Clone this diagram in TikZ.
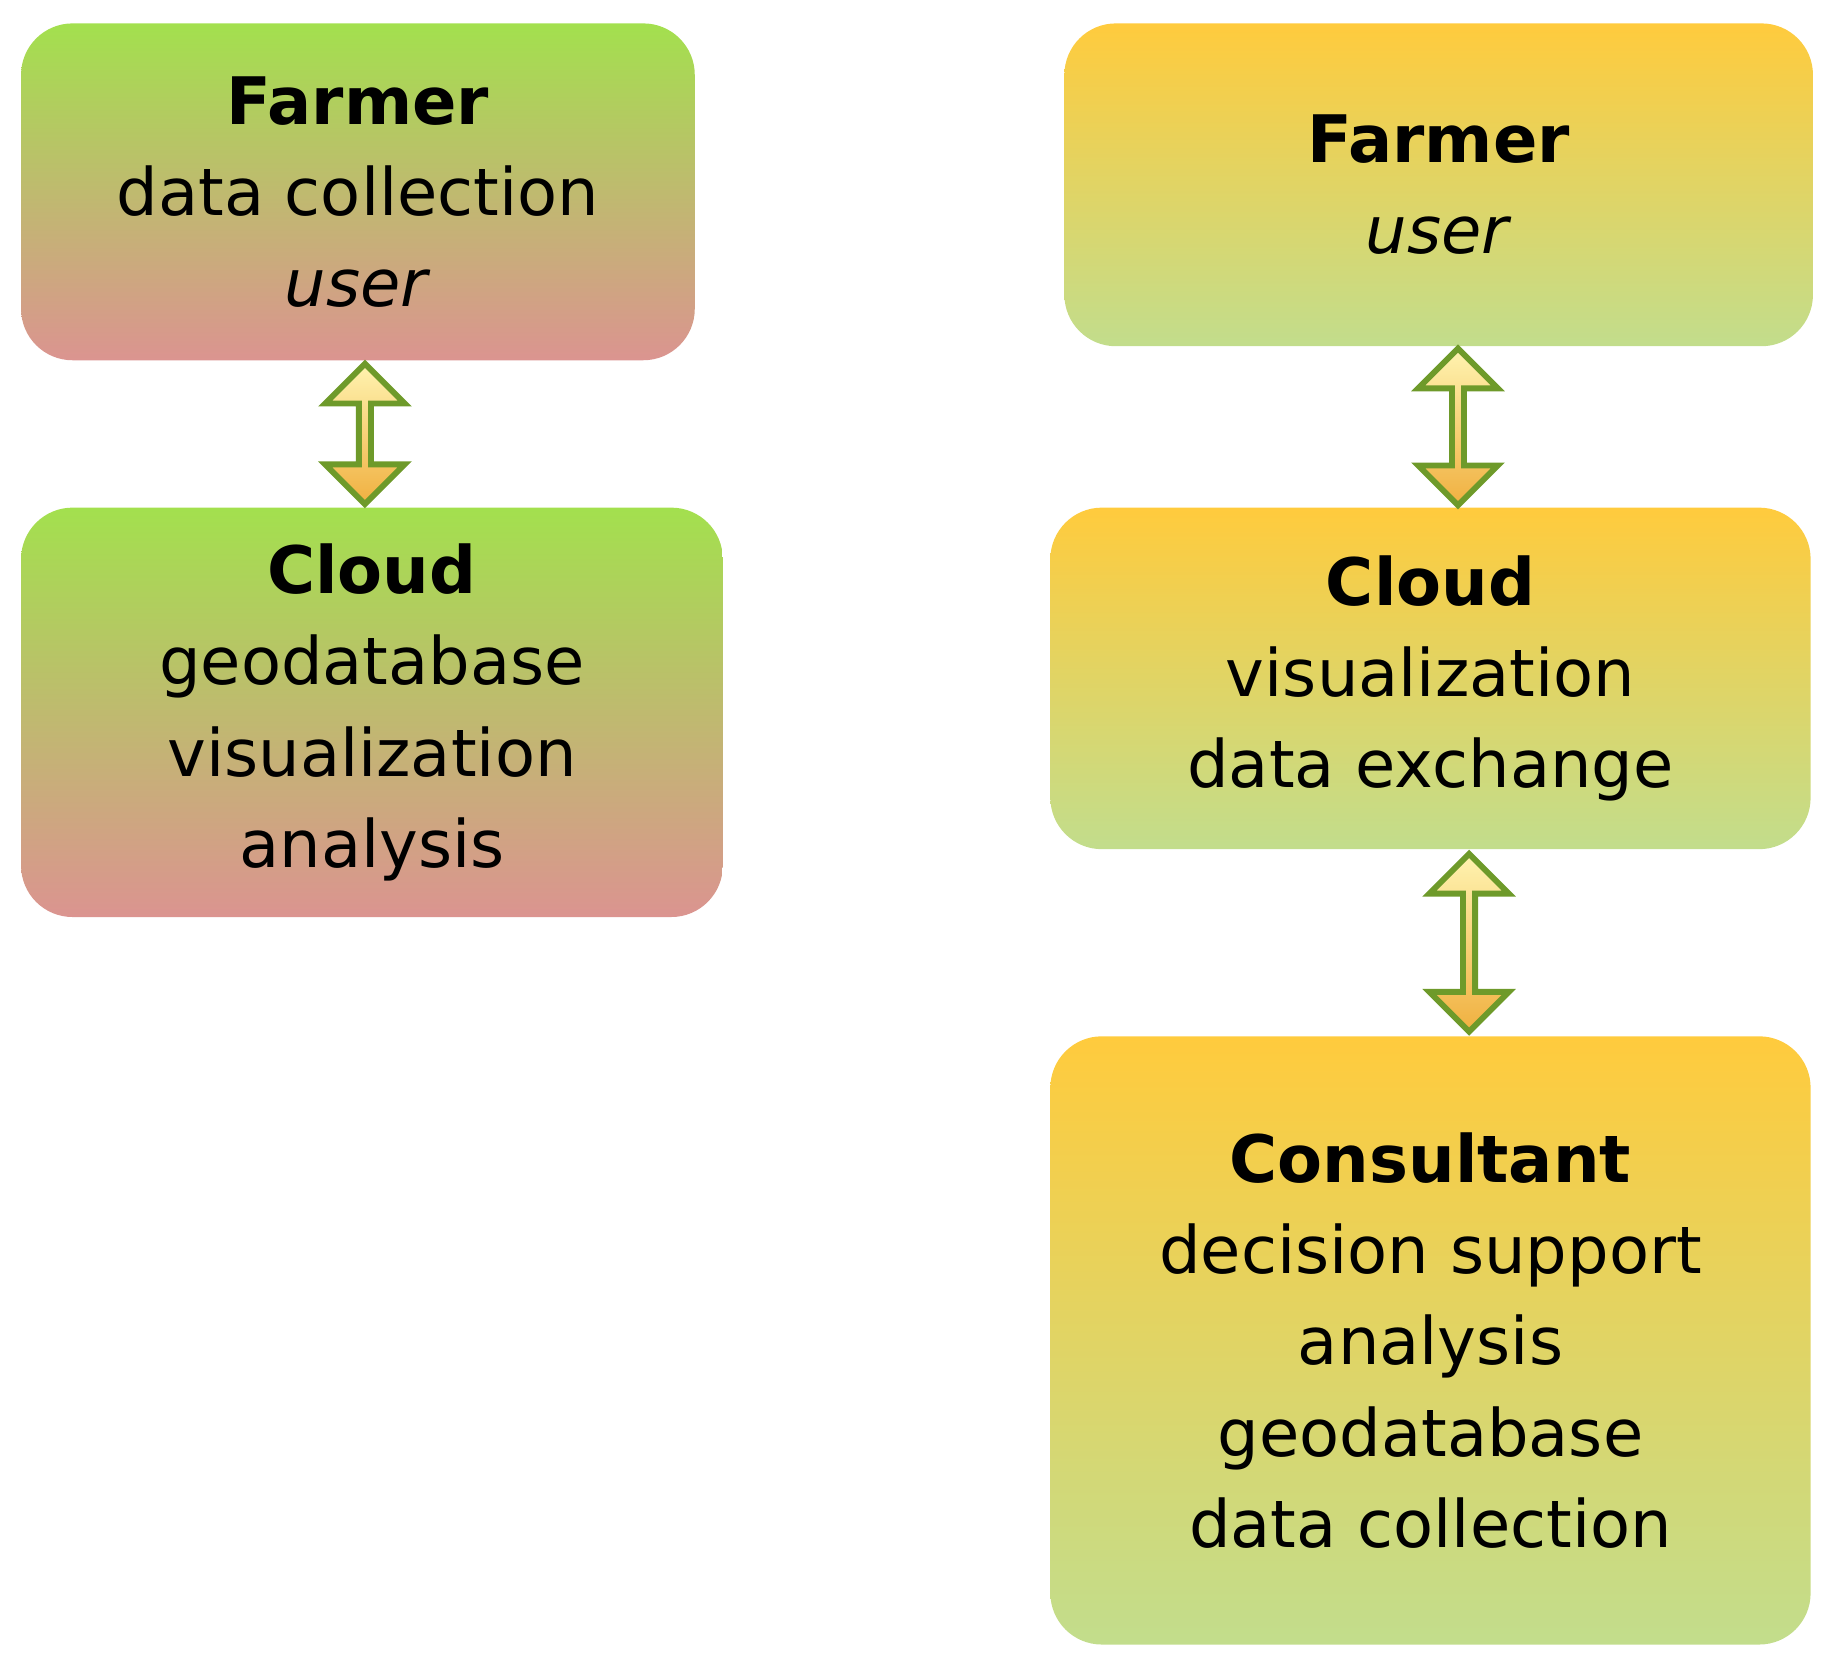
\documentclass[tikz,border=0pt]{standalone}
\usepackage{fontspec}
\setmainfont{DejaVu Sans}
\usetikzlibrary{shapes.arrows,calc}
\definecolor{gtop}{HTML}{A3E04E}
\definecolor{gbot}{HTML}{DB9490}
\definecolor{otop}{HTML}{FFCB3D}
\definecolor{obot}{HTML}{C2DD8C}
\definecolor{aline}{HTML}{6E9A2A}
\definecolor{atop}{HTML}{FFF3B0}
\definecolor{abot}{HTML}{F0B040}
\begin{document}
\begin{tikzpicture}[x=0.5pt,y=0.5pt,
  box/.style={rounded corners=22pt,align=center,inner sep=0pt,
    font=\fontsize{28}{39}\selectfont},
  gbox/.style={box,top color=gtop,bottom color=gbot},
  obox/.style={box,top color=otop,bottom color=obot},
  darr/.style={double arrow,shape border rotate=90,draw=aline,line width=2.5pt,
    top color=atop,bottom color=abot,minimum width=34pt,
    double arrow head extend=7pt,inner sep=0pt,double arrow tip angle=90}]
\useasboundingbox (0,0) rectangle (1568,-1430);
\node[gbox,minimum width=288pt,minimum height=144pt] (f1) at (306,-164)
  {\textbf{Farmer}\\data collection\\\textit{user}};
\node[gbox,minimum width=300pt,minimum height=175pt] (c1) at (318,-609)
  {\textbf{Cloud}\\geodatabase\\visualization\\analysis};
\node[obox,minimum width=320pt,minimum height=138pt] (f2) at (1230,-158)
  {\textbf{Farmer}\\\textit{user}};
\node[obox,minimum width=325pt,minimum height=146pt] (c2) at (1223,-580)
  {\textbf{Cloud}\\visualization\\data exchange};
\node[obox,minimum width=325pt,minimum height=260pt] (k2) at (1223,-1146)
  {\textbf{Consultant}\\decision support\\analysis\\geodatabase\\data collection};
\node[darr,minimum height=60pt] (a1) at ($(f1.south)!0.5!(c1.north)$) {};
\node[darr,minimum height=67pt] (a2) at ($(f2.south)!0.5!(c2.north)+(20,0)$) {};
\node[darr,minimum height=76pt] (a3) at ($(c2.south)!0.5!(k2.north)+(33,0)$) {};
\end{tikzpicture}
\end{document}
